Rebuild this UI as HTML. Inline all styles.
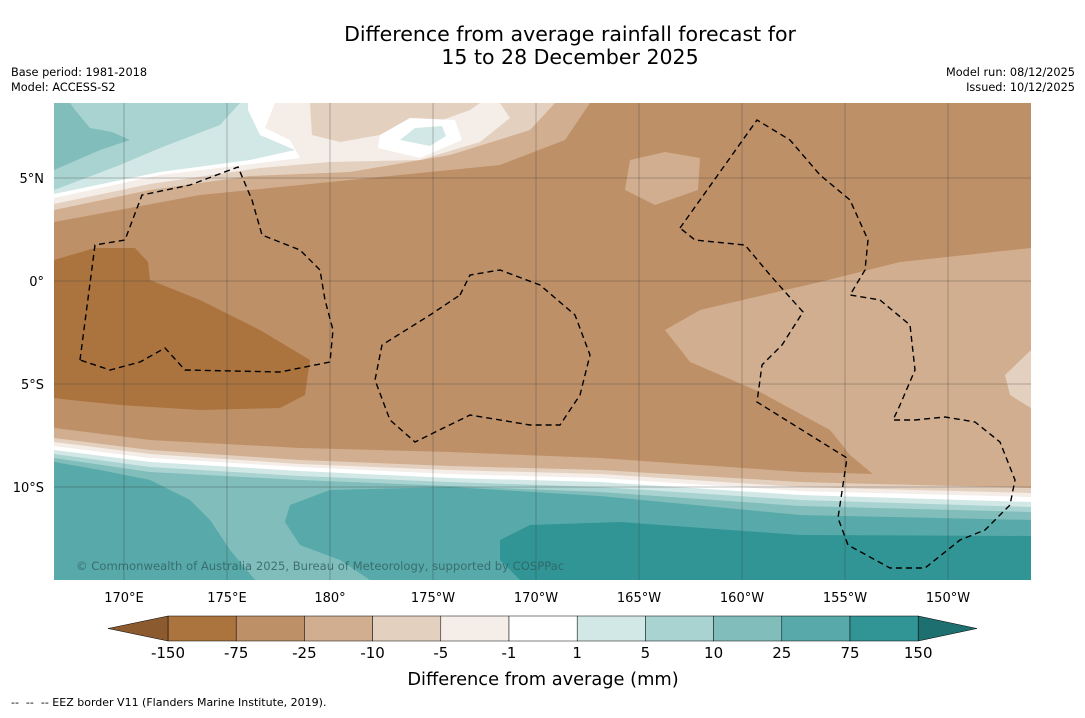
<!DOCTYPE html>
<html><head><meta charset="utf-8"><style>
body{margin:0;background:#fff;font-family:"Liberation Sans","DejaVu Sans",sans-serif;}
svg text{font-family:"DejaVu Sans","Liberation Sans",sans-serif;}
</style></head><body>
<svg id="c" width="1085" height="713" viewBox="0 0 1085 713" xmlns="http://www.w3.org/2000/svg">
<rect width="1085" height="713" fill="#fff"/>
<text x="570" y="41" text-anchor="middle" font-size="20.5" fill="#000">Difference from average rainfall forecast for</text>
<text x="570" y="64" text-anchor="middle" font-size="20.5" fill="#000">15 to 28 December 2025</text>
<text x="11" y="76" font-size="11.3">Base period: 1981-2018</text>
<text x="11" y="91" font-size="11.3">Model: ACCESS-S2</text>
<text x="1075" y="76" font-size="11.3" text-anchor="end">Model run: 08/12/2025</text>
<text x="1075" y="91" font-size="11.3" text-anchor="end">Issued: 10/12/2025</text>
<defs><clipPath id="mc"><rect x="54" y="103" width="977" height="477"/></clipPath></defs>
<g clip-path="url(#mc)">
<rect x="54" y="103" width="977" height="477" fill="#be9068"/>
<path d="M54,222 L200,195 L350,180 L500,165 L565,140 L590,103 L54,103Z" fill="#d1ae8f"/>
<path d="M54,210 L150,190 L250,176 L350,172 L450,155 L530,130 L555,103 L54,103Z" fill="#e4d0bf"/>
<path d="M54,204 L150,184 L260,168 L330,162 L420,160 L480,142 L510,118 L500,103 L54,103Z" fill="#f4ede8"/>
<path d="M310,103 L312,135 L340,142 L420,128 L470,110 L480,103Z" fill="#e4d0bf"/>
<path d="M378,148 L420,158 L462,140 L455,120 L410,118 L380,135Z" fill="#fff"/>
<path d="M400,140 L430,146 L446,136 L442,126 L415,128Z" fill="#d2e8e6"/>
<path d="M54,198 L160,175 L260,163 L300,158 L290,140 L265,128 L275,103 L54,103Z" fill="#fff"/>
<path d="M54,194 L160,172 L250,160 L295,150 L260,135 L248,110 L248,103 L54,103Z" fill="#d2e8e6"/>
<path d="M54,190 L120,165 L160,148 L220,125 L240,103 L54,103Z" fill="#a8d3d1"/>
<path d="M54,170 L100,150 L130,140 L112,132 L90,128 L75,110 L70,103 L54,103Z" fill="#80bdbb"/>
<path d="M630,160 L665,152 L700,158 L698,190 L655,205 L625,190Z" fill="#d1ae8f"/>
<path d="M1031,248 L900,262 L820,282 L700,310 L665,330 L690,362 L760,392 L830,430 L850,455 L880,480 L960,490 L1031,490Z" fill="#d1ae8f"/>
<path d="M1031,350 L1005,375 L1010,395 L1031,408Z" fill="#e4d0bf"/>
<path d="M54,260 L95,248 L135,248 L148,262 L150,280 L200,300 L260,330 L310,360 L305,395 L280,408 L200,410 L120,405 L70,400 L54,398Z" fill="#ab743f"/>
<path d="M54,428 L150,440 L300,448 L450,452 L600,458 L800,472 L1031,478 L1031,580 L54,580Z" fill="#d1ae8f"/>
<path d="M54,438 L150,450 L300,460 L450,466 L600,470 L800,482 L1031,488 L1031,580 L54,580Z" fill="#e4d0bf"/>
<path d="M54,442 L150,454 L300,464 L450,470 L600,474 L800,487 L1031,493 L1031,580 L54,580Z" fill="#f4ede8"/>
<path d="M54,446 L150,458 L300,467 L450,474 L600,478 L800,491 L1031,497 L1031,580 L54,580Z" fill="#fff"/>
<path d="M54,450 L150,462 L300,471 L450,478 L600,482 L800,495 L1031,502 L1031,580 L54,580Z" fill="#d2e8e6"/>
<path d="M54,454 L150,467 L300,476 L450,482 L600,487 L800,500 L1031,507 L1031,580 L54,580Z" fill="#a8d3d1"/>
<path d="M54,458 L150,472 L300,480 L450,486 L600,492 L800,506 L1031,512 L1031,580 L54,580Z" fill="#80bdbb"/>
<path d="M54,462 L100,470 L150,480 L190,500 L210,520 L230,550 L255,580 L54,580Z" fill="#58a9a9"/>
<path d="M290,505 L330,490 L450,487 L600,496 L800,515 L1031,520 L1031,580 L370,580 L340,560 L300,545 L285,522Z" fill="#58a9a9"/>
<path d="M500,540 L530,525 L620,522 L800,535 L1031,536 L1031,580 L520,580 L500,560Z" fill="#319595"/>
<g stroke="#333" stroke-width="0.5" stroke-opacity="0.6" id="grid"></g>
<g fill="none" stroke="#000" stroke-width="1.4" stroke-dasharray="6,4">
<path d="M80,360 L95,245 L125,240 L142,195 L190,185 L238,167 L252,200 L262,235 L300,250 L320,270 L325,300 L333,330 L330,362 L280,372 L185,370 L165,348 L140,362 L110,370 L80,360Z"/>
<path d="M460,295 L470,275 L500,270 L540,285 L575,315 L590,355 L580,395 L560,425 L530,425 L470,415 L415,442 L390,420 L375,380 L382,345 L430,315Z"/>
<path d="M680,228 L700,200 L757,120 L790,140 L820,175 L850,200 L868,240 L865,270 L850,295 L880,300 L910,325 L915,370 L900,405 L893,420 L915,420 L945,417 L975,422 L1000,442 L1015,480 L1010,505 L985,530 L960,540 L925,568 L890,568 L848,545 L838,518 L847,458 L757,402 L762,365 L782,345 L803,312 L770,275 L745,245 L695,240 Z"/>
</g>
<text x="76" y="570" font-size="11.6" fill="#2f5f60" fill-opacity="0.8">© Commonwealth of Australia 2025, Bureau of Meteorology, supported by COSPPac</text>
</g>
<g id="axes"></g>
<g id="cbar"></g>
<text x="543" y="685" text-anchor="middle" font-size="17.8">Difference from average (mm)</text>
<text x="11" y="706" font-size="11" xml:space="preserve" style="white-space:pre">--  --  -- EEZ border V11 (Flanders Marine Institute, 2019).</text>
</svg>
<script>
const lonTicks=[170,175,180,185,190,195,200,205,210];
const lonLabels=["170°E","175°E","180°","175°W","170°W","165°W","160°W","155°W","150°W"];
const latTicks=[5,0,-5,-10];
const latLabels=["5°N","0°","5°S","10°S"];
const levels=["-150","-75","-25","-10","-5","-1","1","5","10","25","75","150"];
const colors=["#ab743f","#be9068","#d1ae8f","#e4d0bf","#f4ede8","#ffffff","#d2e8e6","#a8d3d1","#80bdbb","#58a9a9","#319595"];
const NS="http://www.w3.org/2000/svg";
const xL=lon=>124+(lon-170)*20.6;
const yL=lat=>281-lat*20.6;
function mk(t,a,p){const e=document.createElementNS(NS,t);for(const k in a)e.setAttribute(k,a[k]);p.appendChild(e);return e;}
const grid=document.getElementById('grid'),axes=document.getElementById('axes');
lonTicks.forEach((l,i)=>{const x=xL(l);
 const g=mk('line',{x1:x,x2:x,y1:103,y2:580},grid);
 
 
 const t=mk('text',{x:x,y:602,'text-anchor':'middle','font-size':13},axes);t.textContent=lonLabels[i];
 
 });
latTicks.forEach((l,i)=>{const y=yL(l);
 const g=mk('line',{x1:54,x2:1031,y1:y,y2:y},grid);
 
 
 const t=mk('text',{x:44,y:y+5,'text-anchor':'end','font-size':13},axes);t.textContent=latLabels[i];
 
 });
const cb=document.getElementById('cbar');
const x0=168,w=68.2,y0=616,h=25;
colors.forEach((c,i)=>{const r=mk('rect',{x:x0+i*w,y:y0,width:w,height:h,fill:c,stroke:'#000','stroke-width':0.5},cb);
 
 });
const lt=mk('polygon',{points:`${x0},${y0} ${x0},${y0+h} 108,${y0+h/2}`,fill:'#8b5a2e',stroke:'#000','stroke-width':0.5},cb);


const xe=x0+colors.length*w;
const rt=mk('polygon',{points:`${xe},${y0} ${xe},${y0+h} 977,${y0+h/2}`,fill:'#1e6f6f',stroke:'#000','stroke-width':0.5},cb);


levels.forEach((l,i)=>{const t=mk('text',{x:x0+i*w,y:658,'text-anchor':'middle','font-size':15},cb);t.textContent=l;
 
 });
</script>
</body></html>
